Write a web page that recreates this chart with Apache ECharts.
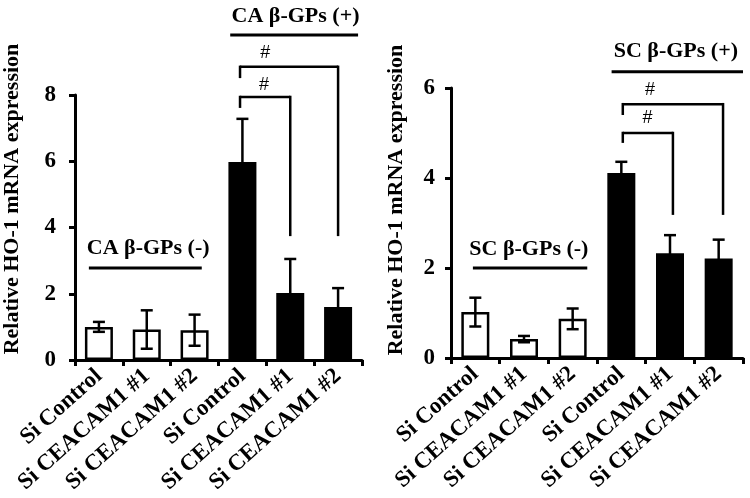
<!DOCTYPE html>
<html>
<head>
<meta charset="utf-8">
<script src="https://cdn.jsdelivr.net/npm/echarts@6/dist/echarts.min.js"></script>
<style>html,body{margin:0;padding:0;background:#fff}#c{width:750px;height:498px}</style>
</head>
<body>
<div id="c"></div>
<script>
// ---- data ----
const categories = ['Si Control', 'Si CEACAM1 #1', 'Si CEACAM1 #2', 'Si Control', 'Si CEACAM1 #1', 'Si CEACAM1 #2'];
const treated = [false, false, false, true, true, true];
const caMeans = [1.0, 0.92, 0.9, 5.98, 2.02, 1.6];
const caErrors = [0.15, 0.58, 0.47, 1.3, 1.03, 0.57];
const scMeans = [1.02, 0.42, 0.87, 4.11, 2.33, 2.21];
const scErrors = [0.32, 0.07, 0.23, 0.25, 0.4, 0.42];
const caTicks = [0, 2, 4, 6, 8];
const scTicks = [0, 2, 4, 6];
const yAxisTitle = 'Relative HO-1 mRNA expression';
const caGroupLabels = ['CA β-GPs (-)', 'CA β-GPs (+)'];
const scGroupLabels = ['SC β-GPs (-)', 'SC β-GPs (+)'];
const sigMark = '#';

// ---- layout (annotation placement, in category-index / value units) ----
const caLayout = {
  minus: { tx: 1.03, ty: 3.38, x1: -0.21, x2: 2.15, y: 2.78 },
  plus: { tx: 4.11, ty: 10.38, x1: 2.745, x2: 5.418, y: 9.81 },
  brackets: [
    { x1: 2.95, x2: 5.0, y: 8.85, dl: 8.51, dr: 3.74, hx: 3.48, hy: 9.27 },
    { x1: 2.95, x2: 4.0, y: 7.94, dl: 7.61, dr: 3.74, hx: 3.45, hy: 8.3 }
  ]
};
const scLayout = {
  minus: { tx: 1.10, ty: 2.42, x1: -0.05, x2: 2.30, y: 2.0 },
  plus: { tx: 4.12, ty: 6.82, x1: 2.80, x2: 5.5, y: 6.36 },
  brackets: [
    { x1: 3.03, x2: 5.09, y: 5.64, dl: 5.4, dr: 3.18, hx: 3.59, hy: 5.96 },
    { x1: 3.03, x2: 4.06, y: 5.0, dl: 4.78, dr: 3.18, hx: 3.54, hy: 5.33 }
  ]
};

const FONT = "'Liberation Serif', 'Times New Roman', serif";
const BLACK = '#000';

function barData(means) {
  return means.map((v, i) => ({
    value: v,
    itemStyle: treated[i]
      ? { color: BLACK, borderWidth: 0 }
      : { color: '#fff', borderColor: BLACK, borderWidth: 2.5 }
  }));
}

function errRender(params, api) {
  const i = api.value(0), m = api.value(1), e = api.value(2);
  const top = api.coord([i, m + e]);
  const bot = api.coord([i, m - e]);
  const cw = 6;
  const st = { stroke: BLACK, lineWidth: 2.5 };
  return {
    type: 'group',
    children: [
      { type: 'line', shape: { x1: top[0], y1: top[1], x2: bot[0], y2: bot[1] }, style: st },
      { type: 'line', shape: { x1: top[0] - cw, y1: top[1], x2: top[0] + cw, y2: top[1] }, style: st },
      { type: 'line', shape: { x1: bot[0] - cw, y1: bot[1], x2: bot[0] + cw, y2: bot[1] }, style: st }
    ]
  };
}

function annotRender(layout, labels) {
  return function (params, api) {
    const c0 = api.coord([0, 0]);
    const bw = api.size([1, 0])[0];
    const X = xi => c0[0] + xi * bw;
    const Y = v => api.coord([0, v])[1];
    const ch = [];
    const ln = (x1, y1, x2, y2, w) => ch.push({ type: 'line', shape: { x1, y1, x2, y2 }, style: { stroke: BLACK, lineWidth: w } });
    const tx = (t, x, y, font, size, weight) => ch.push({
      type: 'text', x, y,
      style: { text: t, fill: BLACK, font: weight + ' ' + size + 'px ' + font, align: 'center', verticalAlign: 'middle' }
    });
    [layout.minus, layout.plus].forEach((g, k) => {
      ln(X(g.x1), Y(g.y), X(g.x2), Y(g.y), 3);
      tx(labels[k], X(g.tx), Y(g.ty), FONT, 22, 'bold');
    });
    layout.brackets.forEach(b => {
      const yy = Y(b.y);
      ln(X(b.x1), yy, X(b.x2), yy, 2.5);
      ln(X(b.x1), yy - 1.25, X(b.x1), Y(b.dl), 2.5);
      ln(X(b.x2), yy - 1.25, X(b.x2), Y(b.dr), 2.5);
      tx(sigMark, X(b.hx), Y(b.hy), "'Liberation Sans', Arial, sans-serif", 18, 'normal');
    });
    return { type: 'group', children: ch };
  };
}

function xAxisCfg(gi) {
  return {
    type: 'category', gridIndex: gi, data: categories,
    axisLine: { show: true, lineStyle: { color: BLACK, width: 3 } },
    axisTick: { show: true, length: 6, lineStyle: { color: BLACK, width: 3 } },
    axisLabel: { interval: 0, rotate: 42, margin: 13, color: BLACK, fontFamily: FONT, fontWeight: 'bold', fontSize: 23 },
    splitLine: { show: false }
  };
}
function yAxisCfg(gi, ticks, gap, pad, margin) {
  return {
    type: 'value', gridIndex: gi, min: ticks[0], max: ticks[ticks.length - 1], interval: ticks[1] - ticks[0],
    name: yAxisTitle, nameLocation: 'middle', nameGap: gap,
    nameTextStyle: { color: BLACK, fontFamily: FONT, fontWeight: 'bold', fontSize: 22, padding: [0, 0, 0, pad] },
    axisLine: { show: true, lineStyle: { color: BLACK, width: 3 } },
    axisTick: { show: true, length: 6, lineStyle: { color: BLACK, width: 3 } },
    axisLabel: { margin: margin, color: BLACK, fontFamily: FONT, fontWeight: 'bold', fontSize: 23 },
    splitLine: { show: false }
  };
}

const chart = echarts.init(document.getElementById('c'), null, { renderer: 'canvas' });
chart.setOption({
  animation: false,
  backgroundColor: '#fff',
  grid: [
    { left: 68, top: 95, width: 294, height: 265 },
    { left: 451, top: 88, width: 292, height: 270 }
  ],
  xAxis: [xAxisCfg(0), xAxisCfg(1)],
  yAxis: [yAxisCfg(0, caTicks, 52, 57, 19), yAxisCfg(1, scTicks, 44, 46, 16)],
  series: [
    { type: 'bar', xAxisIndex: 0, yAxisIndex: 0, barWidth: 28, data: barData(caMeans) },
    { type: 'bar', xAxisIndex: 1, yAxisIndex: 1, barWidth: 28, data: barData(scMeans) },
    { type: 'custom', xAxisIndex: 0, yAxisIndex: 0, z: 5, clip: false, renderItem: errRender,
      data: caMeans.map((m, i) => [i, m, caErrors[i]]) },
    { type: 'custom', xAxisIndex: 1, yAxisIndex: 1, z: 5, clip: false, renderItem: errRender,
      data: scMeans.map((m, i) => [i, m, scErrors[i]]) },
    { type: 'custom', xAxisIndex: 0, yAxisIndex: 0, z: 6, clip: false, silent: true,
      renderItem: annotRender(caLayout, caGroupLabels), data: [[0, 0]] },
    { type: 'custom', xAxisIndex: 1, yAxisIndex: 1, z: 6, clip: false, silent: true,
      renderItem: annotRender(scLayout, scGroupLabels), data: [[0, 0]] }
  ]
});
</script>
</body>
</html>
